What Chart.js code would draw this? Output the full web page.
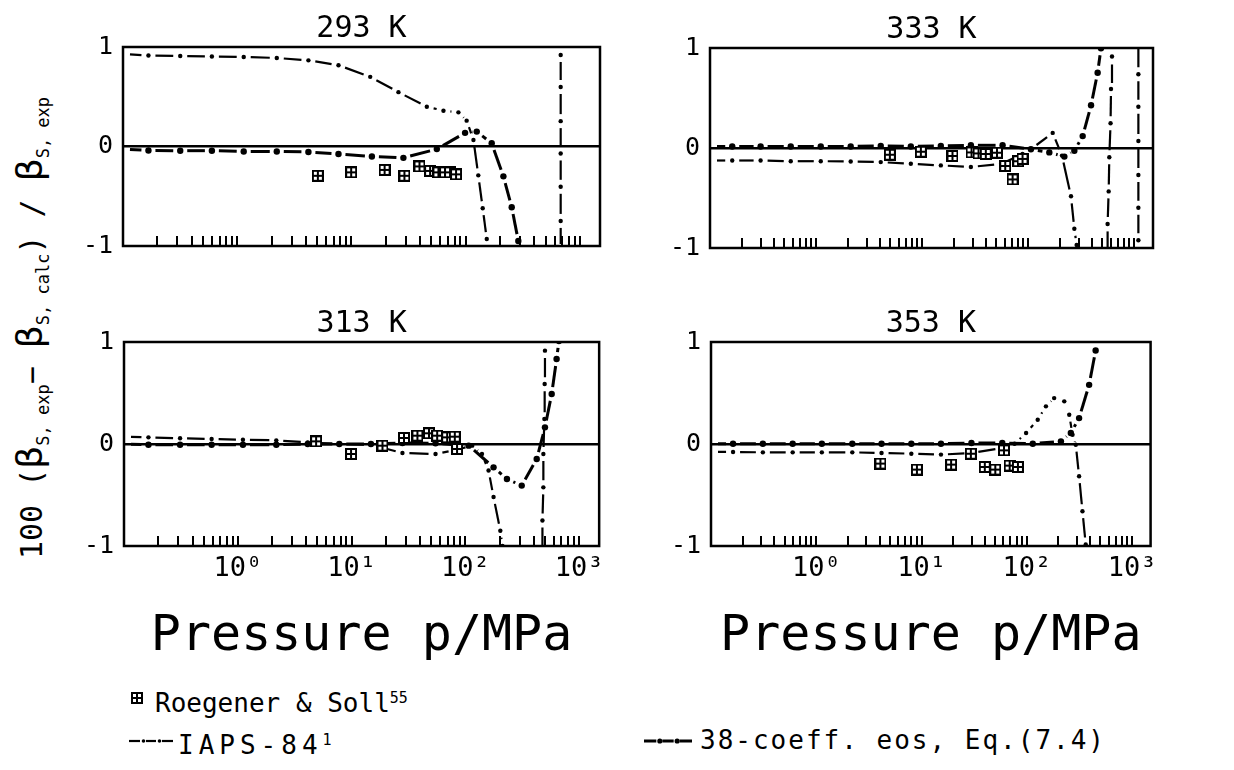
<!DOCTYPE html>
<html>
<head>
<meta charset="utf-8">
<script src="https://cdn.jsdelivr.net/npm/chart.js"></script>
<style>
body { margin: 0; background: #fff; width: 1234px; height: 770px; overflow: hidden; position: relative;
       font-family: "DejaVu Sans Mono", monospace; color: #000; }
canvas { position: absolute; }
.ylab { position: absolute; left: 36px; top: 328px; transform: translate(-50%, -50%) rotate(-90deg);
        white-space: nowrap; font-size: 30px; line-height: 40px; }
.ylab .b { font-family: "DejaVu Sans", sans-serif; font-size: 36px; }
.ylab sub { font-size: 17px; vertical-align: -7px; }
.lg { position: absolute; font-size: 26px; line-height: 26px; white-space: nowrap; }
.lg sup { font-size: 15px; vertical-align: 9px; }
</style>
</head>
<body>

<canvas id="c293" width="547" height="260" style="left:63px;top:11px"></canvas>
<canvas id="c333" width="513" height="261" style="left:650px;top:12px"></canvas>
<canvas id="c313" width="547" height="361" style="left:64px;top:306px"></canvas>
<canvas id="c353" width="513" height="361" style="left:651px;top:306px"></canvas>

<div class="ylab">100 (<span class="b">β</span><sub>S, exp</sub>− <span class="b">β</span><sub>S, calc</sub>) / <span class="b">β</span><sub>S, exp</sub></div>

<canvas id="lgR" width="14" height="14" style="left:130px;top:691px"></canvas>
<div class="lg" style="left:155px;top:685px">Roegener &amp; Soll<sup>55</sup></div>
<canvas id="lgI" width="44" height="10" style="left:129px;top:736px"></canvas>
<div class="lg" style="left:178px;top:727px;letter-spacing:5px">IAPS-84<sup>1</sup></div>
<canvas id="lgE" width="48" height="10" style="left:644px;top:736px"></canvas>
<div class="lg" style="left:700px;top:727px;letter-spacing:2px">38-coeff. eos, Eq.(7.4)</div>

<script>
// tick positions on the pressure axis (inner tick marks) and labels
var pressureTicks = [0.2, 0.3, 0.4, 0.5, 0.6, 0.7, 0.8, 0.9, 1,
                     2, 3, 4, 5, 6, 7, 8, 9, 10,
                     20, 30, 40, 50, 60, 70, 80, 90, 100,
                     200, 300, 400, 500, 600, 700, 800, 900, 1000];
var decadeLabels = { 1: '10⁰', 10: '10¹', 100: '10²', 1000: '10³' };
var yTicks = [-1, 0, 1];

// 293 K
var p293_iaps = [0.1, 0.167, 0.317, 0.6, 1.14, 2.22, 4.2, 7.7, 14.6, 25.8, 45.7, 63.9, 86.4, 102, 117, 129, 141, 153, 157,
                 300, 679, 679, 679, 679, 679, 679, 679];
var d293_iaps = [0.93, 0.915, 0.91, 0.905, 0.9, 0.89, 0.866, 0.817, 0.70, 0.546, 0.40, 0.36, 0.343, 0.26, 0.065, -0.29, -0.62, -0.93, -1.05,
                 null, -1.05, -0.748, -0.405, -0.07, 0.255, 0.598, 0.92];
var p293_eos = [0.1, 0.167, 0.317, 0.6, 1.14, 2.22, 4.2, 7.7, 15.1, 28.5, 55.9, 98.8, 125, 169, 214, 253, 289, 300];
var d293_eos = [-0.026, -0.04, -0.042, -0.042, -0.05, -0.05, -0.055, -0.075, -0.10, -0.114, -0.026, 0.137, 0.15, 0.032, -0.30, -0.61, -0.95, -1.05];
var p293_exp = [5.08, 9.94, 19.5, 29.1, 39.4, 48.8, 57.7, 66, 73, 82.4];
var d293_exp = [-0.294, -0.26, -0.235, -0.294, -0.2, -0.245, -0.26, -0.26, -0.26, -0.28];

// 333 K
var p333_iaps = [0.1, 0.162, 0.30, 0.577, 1.107, 2.12, 4.07, 7.82, 15.0, 28.8, 55.5, 88.3, 106, 170, 208, 253, 272, 286, 292,
                 400, 555, 560, 573, 581, 597, 603, 616,
                 800, 1092, 1092, 1092, 1092, 1092, 1092, 1092];
var d333_iaps = [-0.125, -0.125, -0.125, -0.132, -0.132, -0.135, -0.141, -0.158, -0.174, -0.19, -0.158, -0.06, -0.012, 0.151, -0.076, -0.483, -0.808, -0.97, -1.1,
                 null, -1.1, -0.76, -0.434, -0.093, 0.248, 0.59, 0.915,
                 null, 1.1, 0.737, 0.413, 0.07, -0.27, -0.597, -0.922];
var p333_eos = [0.1, 0.162, 0.30, 0.577, 1.107, 2.12, 4.07, 7.82, 15.0, 28.8, 57.3, 106, 158, 219, 272, 326, 391, 451, 485, 495];
var d333_eos = [0.015, 0.015, 0.015, 0.015, 0.015, 0.015, 0.021, 0.015, 0.021, 0.027, 0.027, -0.012, -0.044, -0.086, -0.027, 0.119, 0.427, 0.753, 0.997, 1.1];
var p333_exp = [4.96, 9.72, 19.3, 29.2, 34, 39.8, 50.7, 60.7, 71.2, 80.5, 88.3];
var d333_exp = [-0.067, -0.037, -0.08, -0.044, -0.054, -0.06, -0.047, -0.18, -0.314, -0.132, -0.109];

// 313 K
var p313_iaps = [0.1, 0.164, 0.311, 0.589, 1.11, 2.18, 4.12, 7.8, 14.8, 28, 54.7, 81.9, 115, 140, 160, 177, 203, 212, 215,
                 300, 476, 476, 485, 485, 495, 498, 501];
var d313_iaps = [0.072, 0.065, 0.056, 0.049, 0.042, 0.036, 0.016, 0, -0.007, -0.088, -0.098, -0.059, -0.016, -0.098, -0.26, -0.52, -0.85, -1.0, -1.1,
                 null, -1.1, -0.75, -0.425, -0.098, 0.245, 0.588, 0.915];
var p313_eos = [0.1, 0.164, 0.311, 0.589, 1.11, 2.18, 4.12, 7.8, 14.8, 28, 54.7, 107, 177, 232, 313, 424, 501, 574, 634, 665, 680];
var d313_eos = [0, -0.007, -0.007, -0.007, -0.007, -0.007, 0, 0, 0, 0.01, 0.007, -0.016, -0.229, -0.343, -0.408, -0.147, 0.163, 0.49, 0.833, 1.01, 1.1];
var p313_exp = [4.88, 9.9, 18.7, 28.9, 37.9, 47.9, 56.5, 69.2, 80.8, 84.5];
var d313_exp = [0.026, -0.098, -0.016, 0.059, 0.082, 0.105, 0.082, 0.065, 0.072, -0.049];

// 353 K
var p353_iaps = [0.1, 0.162, 0.311, 0.597, 1.13, 2.2, 4.17, 8.0, 15.3, 29.8, 58.5, 76.5, 98.5, 127, 152, 182, 227, 253, 272, 292, 314, 338, 363, 368];
var d353_iaps = [-0.078, -0.078, -0.082, -0.082, -0.082, -0.082, -0.088, -0.095, -0.104, -0.088, -0.039, 0.003, 0.108, 0.238, 0.369, 0.45, 0.418, 0.287, 0.091, -0.007, -0.316, -0.659, -0.985, -1.1];
var p353_eos = [0.1, 0.162, 0.311, 0.597, 1.13, 2.2, 4.17, 8.0, 15.3, 29.8, 58.5, 114, 211, 262, 314, 391, 451];
var d353_eos = [0.003, 0.003, 0.003, 0.003, 0.003, 0.003, 0.003, 0.003, 0.003, 0.01, 0.01, 0.003, 0.026, 0.108, 0.254, 0.58, 0.917];
var p353_exp = [4.07, 9.04, 19.1, 29.4, 39.9, 50.2, 60.7, 68.7, 82.3];
var d353_exp = [-0.192, -0.251, -0.202, -0.095, -0.225, -0.251, -0.062, -0.212, -0.225];

Chart.defaults.font.family = "'DejaVu Sans Mono', monospace";
Chart.defaults.color = '#000';

function pts(p, d) {
    return p.map(function (v, i) { return { x: v, y: d[i] }; });
}

// square with a cross, used for the measured points
function drawMarker(g, x, y) {
    g.fillStyle = '#000';
    g.fillRect(x, y, 12, 12);
    g.fillStyle = '#fff';
    g.fillRect(x + 2, y + 2, 3, 3); g.fillRect(x + 7, y + 2, 3, 3);
    g.fillRect(x + 2, y + 7, 3, 3); g.fillRect(x + 7, y + 7, 3, 3);
}
var marker = document.createElement('canvas');
marker.width = 12; marker.height = 12;
drawMarker(marker.getContext('2d'), 0, 0);

// every segment between two points: gap, dash, gap  -> "—•—•—"
function segLen(c) {
    return Math.hypot(c.p1.x - c.p0.x, c.p1.y - c.p0.y);
}
function gapSegment(g) {
    return {
        borderDash: function (c) { return [Math.max(segLen(c) - 2 * g, 0.5), 2 * g]; },
        borderDashOffset: function (c) { return Math.max(segLen(c) - 2 * g, 0.5) + g; }
    };
}
function radiusFor(r) {
    return function (c) { return c.raw && c.raw.x <= 0.1 ? 0 : r; };
}

var framePlugin = {
    id: 'frame',
    afterDraw: function (chart) {
        var a = chart.chartArea, c = chart.ctx, xs = chart.scales.x;
        c.save();
        c.strokeStyle = '#000';
        c.lineWidth = 2;
        c.beginPath();
        xs.ticks.forEach(function (t) {
            var px = Math.round(xs.getPixelForValue(t.value));
            c.moveTo(px, a.bottom);
            c.lineTo(px, a.bottom - 10);
        });
        c.stroke();
        c.lineWidth = 2.5;
        c.strokeRect(a.left, a.top, a.right - a.left, a.bottom - a.top);
        c.restore();
    }
};

function makeChart(id, title, bottom, exp, iaps, eos) {
    new Chart(document.getElementById(id), {
        type: 'line',
        data: {
            datasets: [
                {
                    label: 'Roegener & Soll',
                    data: exp,
                    showLine: false,
                    pointStyle: marker,
                    pointRadius: 6
                },
                {
                    label: 'IAPS-84',
                    data: iaps,
                    borderColor: '#000',
                    borderWidth: 2.2,
                    pointRadius: radiusFor(2.2),
                    pointBackgroundColor: '#000',
                    pointBorderWidth: 0,
                    segment: gapSegment(7)
                },
                {
                    label: '38-coeff. eos',
                    data: eos,
                    borderColor: '#000',
                    borderWidth: 3,
                    pointRadius: radiusFor(3.2),
                    pointBackgroundColor: '#000',
                    pointBorderWidth: 0,
                    segment: gapSegment(7)
                }
            ]
        },
        options: {
            responsive: false,
            animation: false,
            devicePixelRatio: 1,
            layout: { padding: { left: 0, right: 10, top: 0, bottom: 0 } },
            plugins: {
                legend: { display: false },
                tooltip: { enabled: false },
                title: {
                    display: true,
                    text: title,
                    fullSize: false,
                    font: { size: 30, weight: 'normal' },
                    padding: { top: 0, bottom: 0 },
                    color: '#000'
                }
            },
            scales: {
                x: {
                    type: 'logarithmic',
                    min: 0.1,
                    max: 1500,
                    afterBuildTicks: function (s) {
                        s.ticks = pressureTicks.map(function (v) { return { value: v }; });
                    },
                    afterFit: function (s) { s.height = bottom ? 121 : 20; },
                    grid: { display: false, drawTicks: false },
                    border: { display: false },
                    ticks: {
                        display: bottom,
                        autoSkip: false,
                        maxRotation: 0,
                        padding: 7,
                        font: { size: 27 },
                        callback: function (v) { return decadeLabels[v] || ''; }
                    },
                    title: {
                        display: bottom,
                        text: 'Pressure p/MPa',
                        font: { size: 50 },
                        padding: { top: 0, bottom: 0 },
                        color: '#000'
                    }
                },
                y: {
                    min: -1,
                    max: 1,
                    afterBuildTicks: function (s) {
                        s.ticks = yTicks.map(function (v) { return { value: v }; });
                    },
                    afterFit: function (s) { s.width = 60; },
                    grid: {
                        drawTicks: false,
                        lineWidth: 2.5,
                        color: function (c) { return c.tick && c.tick.value === 0 ? '#000' : 'rgba(0,0,0,0)'; }
                    },
                    border: { display: false },
                    ticks: {
                        padding: 10,
                        font: { size: 25 },
                        callback: function (v) { return String(v); }
                    }
                }
            }
        },
        plugins: [framePlugin]
    });
}

makeChart('c293', '293 K', false, pts(p293_exp, d293_exp), pts(p293_iaps, d293_iaps), pts(p293_eos, d293_eos));
makeChart('c333', '333 K', false, pts(p333_exp, d333_exp), pts(p333_iaps, d333_iaps), pts(p333_eos, d333_eos));
makeChart('c313', '313 K', true, pts(p313_exp, d313_exp), pts(p313_iaps, d313_iaps), pts(p313_eos, d313_eos));
makeChart('c353', '353 K', true, pts(p353_exp, d353_exp), pts(p353_iaps, d353_iaps), pts(p353_eos, d353_eos));

// legend samples
drawMarker(document.getElementById('lgR').getContext('2d'), 1, 1);
function sample(id, w, lw, r) {
    var g = document.getElementById(id).getContext('2d');
    var y = 5, seg = (w - 8) / 3;
    g.fillStyle = '#000';
    g.fillRect(0, y - lw / 2, seg - 1, lw);
    g.fillRect(seg + 4 + 1, y - lw / 2, seg - 2, lw);
    g.fillRect(2 * seg + 8 + 1, y - lw / 2, seg - 1, lw);
    [seg + 2, 2 * seg + 6].forEach(function (cx) {
        g.beginPath(); g.arc(cx + 0.5, y, r, 0, Math.PI * 2); g.fill();
    });
}
sample('lgI', 44, 2.2, 1.8);
sample('lgE', 48, 3, 2.6);
</script>
</body>
</html>
